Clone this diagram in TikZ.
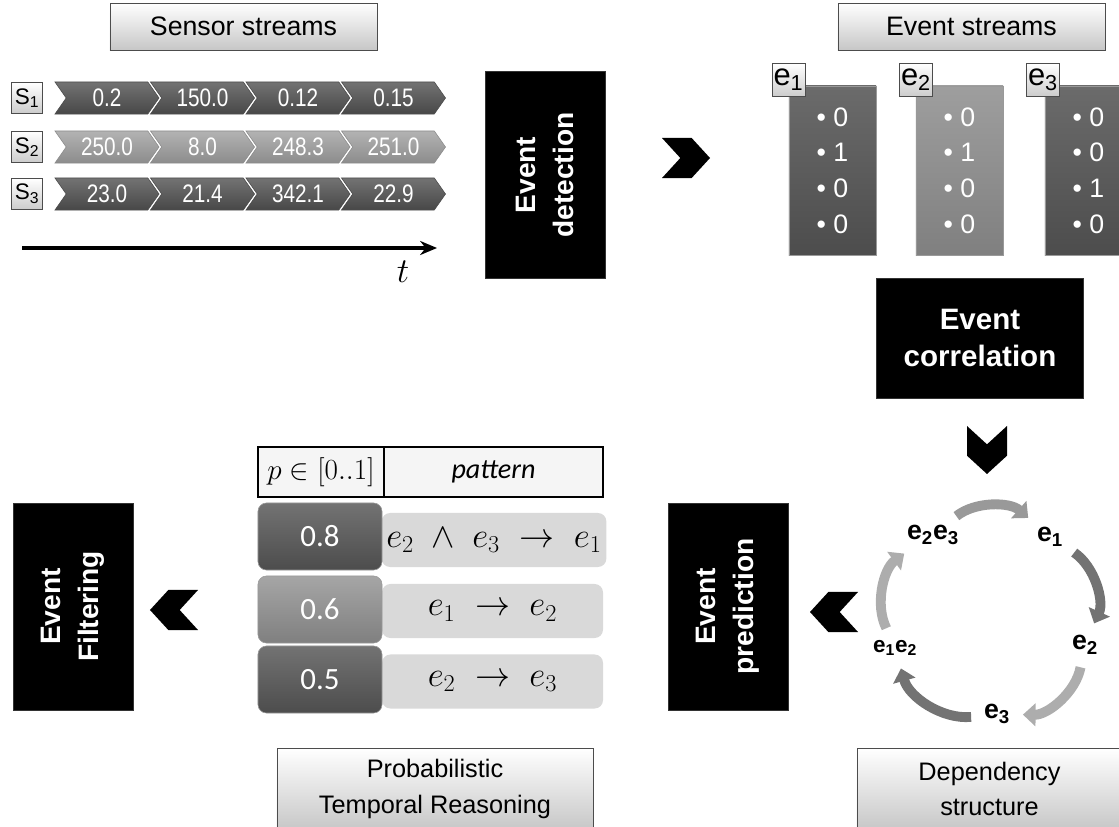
\documentclass[tikz,border=0pt]{standalone}
\usepackage{fontspec}
\setmainfont{Liberation Sans}
\newfontfamily\calib{Carlito}
\newfontfamily\narrowf{Liberation Sans}[FakeStretch=0.82]
\usetikzlibrary{shapes.symbols,arrows.meta}

\tikzset{
  titlebox/.style={draw=gray!60!black,top color=white,bottom color=black!22,minimum width=6.675cm,minimum height=1.175cm,font=\fontsize{19}{22}\selectfont},
  lowbox/.style={titlebox,minimum height=2.05cm,align=center,font=\fontsize{18}{25}\selectfont},
  blackbox/.style={fill=black,draw=gray!40!black,text=white,minimum width=5.175cm,minimum height=3cm,align=center,font=\fontsize{20}{27}\selectfont\bfseries},
  chev/.style={signal,signal from=west,signal to=east,signal pointer angle=110,minimum width=2.6cm,minimum height=0.8cm,inner sep=0pt,text=white,font=\narrowf\fontsize{18}{18}\selectfont},
  chevdark/.style={chev,top color=black!55,bottom color=black!72,draw=black!70},
  chevlight/.style={chev,top color=black!30,bottom color=black!45,draw=black!45},
  slabel/.style={draw=gray!60!black,top color=white,bottom color=black!20,minimum size=0.775cm,inner sep=0pt,font=\fontsize{16}{16}\selectfont},
  elabel/.style={slabel,minimum size=0.825cm,font=\fontsize{22}{22}\selectfont},
  colbox/.style={minimum width=2.175cm,minimum height=4.225cm,text=white,align=center,draw=black!40,font=\fontsize{19}{25.4}\selectfont},
  coldark/.style={colbox,top color=black!58,bottom color=black!70},
  collight/.style={colbox,top color=black!38,bottom color=black!50},
  bigchev/.style={signal,signal from=west,signal to=east,fill=black,minimum width=1.2cm,minimum height=1cm,signal pointer angle=95,inner sep=0pt},
  hcell/.style={draw=black,thick,fill=gray!8,minimum height=1.25cm,font=\fontsize{20}{20}\selectfont},
  pbox/.style={rounded corners=6pt,minimum width=3.1cm,minimum height=1.675cm,text=white,draw=black!40,font=\calib\fontsize{22}{22}\selectfont},
  pdark/.style={pbox,top color=black!55,bottom color=black!70},
  pmid/.style={pbox,top color=black!35,bottom color=black!50},
  patbox/.style={rounded corners=6pt,fill=black!15,minimum width=5.525cm,minimum height=1.35cm,font=\fontsize{23}{23}\selectfont},
  cyclab/.style={font=\fontsize{19}{19}\selectfont\bfseries,inner sep=2pt},
  cycarrow/.style={line width=7pt,-{Triangle[width=16pt,length=9pt]},shorten <=7pt,shorten >=7pt}
}

\begin{document}
\begin{tikzpicture}[x=0.025cm,y=-0.025cm]
\useasboundingbox (0,0) rectangle (1119,827);
\clip (0,0) rectangle (1119,827);
% sensor streams
\node[titlebox] (sens) at (243.5,26.5) {Sensor streams};
\node[slabel] (s1) at (27,98) {S\textsubscript{1}};
\node[slabel] (s2) at (27,147) {S\textsubscript{2}};
\node[slabel] (s3) at (27,194) {S\textsubscript{3}};
\foreach \v [count=\k] in {0.2,150.0,0.12,0.15}
  \node[chevdark] (a\k) at ({11.5+95.5*\k},98) {\v};
\foreach \v [count=\k] in {250.0,8.0,248.3,251.0}
  \node[chevlight] (b\k) at ({11.5+95.5*\k},147) {\v};
\foreach \v [count=\k] in {23.0,21.4,342.1,22.9}
  \node[chevdark] (c\k) at ({11.5+95.5*\k},194) {\v};
% time axis
\coordinate (tstart) at (22,248);
\coordinate (tend) at (437,248);
\draw[line width=2.5pt,-{Stealth[length=12pt,width=10pt]}] (tstart) -- (tend);
\node[font=\fontsize{24}{24}\selectfont] (tlab) at (403,272) {$t$};
% detection
\node[blackbox,rotate=90] (det) at (545,175) {Event\\detection};
\node[bigchev] (ch1) at (686,158) {};
% event streams
\node[titlebox] (evs) at (971.5,26.5) {Event streams};
\node[coldark] (col1) at (832.5,170.5) {\textbullet\ 0\\\textbullet\ 1\\\textbullet\ 0\\\textbullet\ 0};
\node[collight] (col2) at (959.5,170.5) {\textbullet\ 0\\\textbullet\ 1\\\textbullet\ 0\\\textbullet\ 0};
\node[coldark] (col3) at (1088.5,170.5) {\textbullet\ 0\\\textbullet\ 0\\\textbullet\ 1\\\textbullet\ 0};
\node[elabel] (e1) at (788.5,80) {e\textsubscript{1}};
\node[elabel] (e2) at (916,80) {e\textsubscript{2}};
\node[elabel] (e3) at (1043,80) {e\textsubscript{3}};
% correlation
\node[blackbox,font=\fontsize{21}{26}\selectfont\bfseries] (corr) at (980,338) {Event\\correlation};
\node[bigchev,rotate=-90] (ch2) at (987,450) {};
% dependency cycle
\node[cyclab] (n23) at (933,535) {e\textsubscript{2}e\textsubscript{3}};
\node[cyclab] (n1) at (1050,537) {e\textsubscript{1}};
\node[cyclab] (n2) at (1085,645) {e\textsubscript{2}};
\node[cyclab] (n3) at (997,714) {e\textsubscript{3}};
\node[cyclab,font=\fontsize{16}{16}\selectfont\bfseries] (n12) at (895,648) {e\textsubscript{1}e\textsubscript{2}};
\draw[cycarrow,black!40] (n23) to[bend left=40] (n1);
\draw[cycarrow,black!55] (n1) to[bend left=40] (n2);
\draw[cycarrow,black!32] (n2) to[bend left=40] (n3);
\draw[cycarrow,black!55] (n3) to[bend left=40] (n12);
\draw[cycarrow,black!32] (n12) to[bend left=40] (n23);
\node[lowbox,minimum width=6.625cm] (dep) at (989.5,789) {Dependency\\structure};
% prediction
\node[bigchev,rotate=180] (ch3) at (834,612) {};
\node[blackbox,rotate=90] (pred) at (728,606.5) {Event\\prediction};
% rule table
\node[hcell,minimum width=3.15cm] (hp) at (321,472) {$p\in[0..1]$};
\node[hcell,minimum width=5.475cm] (hpat) at (493.5,472) {\calib\itshape pattern};
\node[patbox] (pat1) at (494,540) {$e_2\;\wedge\;e_3\;\rightarrow\;e_1$};
\node[pdark] (p1) at (320,536.5) {0.8};
\node[patbox] (pat2) at (492.5,611) {$e_1\;\rightarrow\;e_2$};
\node[pmid] (p2) at (320,609.5) {0.6};
\node[patbox] (pat3) at (492.5,681.5) {$e_2\;\rightarrow\;e_3$};
\node[pdark] (p3) at (320,679.5) {0.5};
\node[lowbox,minimum width=7.9cm] (ptr) at (435,789) {Probabilistic\\Temporal Reasoning};
% filtering
\node[bigchev,rotate=180] (ch4) at (174,610) {};
\node[blackbox,rotate=90] (filt) at (73,606.5) {Event\\Filtering};
\end{tikzpicture}
\end{document}
